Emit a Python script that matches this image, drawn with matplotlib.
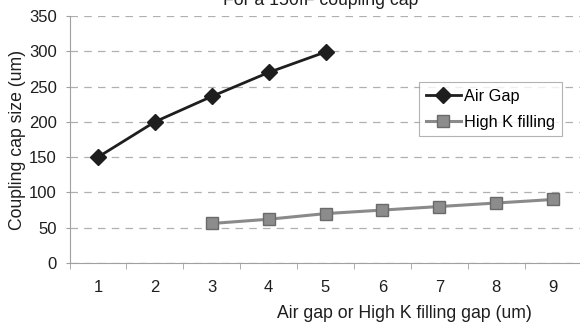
import matplotlib
matplotlib.use("Agg")
import matplotlib.pyplot as plt
import numpy as np

categories = ["1", "2", "3", "4", "5", "6", "7", "8", "9"]
air_x = [1, 2, 3, 4, 5]
air_gap = [150, 200, 236, 270, 299]
highk_x = [3, 4, 5, 6, 7, 8, 9]
high_k = [56, 62, 70, 75, 80, 85, 90]
yticks = [0, 50, 100, 150, 200, 250, 300, 350]

plt.rcParams['font.family'] = ['Liberation Sans', 'DejaVu Sans']

fig = plt.figure(figsize=(5.8, 3.23), dpi=100)
W, H = 580, 323
ax = fig.add_axes([69.5 / W, 1 - 263 / H, (581.5 - 69.5) / W, (263 - 16) / H])

ax.plot(air_x, air_gap, color='#1e1e1e', lw=2, marker='D', markersize=8,
        markerfacecolor='#1e1e1e', markeredgecolor='#1e1e1e', label='Air Gap')
ax.plot(highk_x, high_k, color='#8a8a8a', lw=2.2, marker='s', markersize=9,
        markerfacecolor='#8c8c8c', markeredgecolor='#6a6a6a', label='High K filling')

ax.set_xlim(0.5, 9.5)
ax.set_ylim(0, 350)
ax.set_yticks(yticks)
ax.set_xticks(range(1, 10))
ax.set_xticklabels(categories)
ax.yaxis.grid(True, linestyle=(0, (6, 5)), color='#b0b0b0', lw=0.9)
ax.set_axisbelow(True)
for s in ['top', 'right']:
    ax.spines[s].set_visible(False)
ax.spines['left'].set_color('#a0a0a0')
ax.spines['bottom'].set_color('#a0a0a0')
ax.tick_params(axis='y', length=3, color='#a0a0a0', labelsize=12, pad=6, labelcolor='#1e1e1e')
ax.tick_params(axis='x', length=0, labelsize=12, pad=12, labelcolor='#1e1e1e')
ax.set_xticks(np.arange(0.5, 10, 1), minor=True)
ax.tick_params(axis='x', which='minor', length=4, color='#a0a0a0')

fig.text(18 / W, 1 - 140 / H, 'Coupling cap size (um)', rotation=90, ha='center', va='center',
         fontsize=12.7, color='#1e1e1e')
fig.text(532 / W, 1 - 313 / H, 'Air gap or High K filling gap (um)', ha='right', va='center',
         fontsize=12.7, color='#1e1e1e')
fig.text(321 / W, 1 - 5 / H, 'For a 150fF coupling cap', ha='center', va='baseline',
         fontsize=12.7, color='#1e1e1e')

leg = ax.legend(loc='upper left', bbox_to_anchor=((419 - 69.5) / 512, 1 - (82 - 16) / 247),
                frameon=True, fancybox=False, fontsize=11.7, handlelength=2.2,
                handletextpad=0.2, borderpad=0.4, labelspacing=0.7, borderaxespad=0)
leg.get_frame().set_edgecolor('#a0a0a0')
leg.get_frame().set_linewidth(0.8)

fig.savefig('out.png', dpi=100)
